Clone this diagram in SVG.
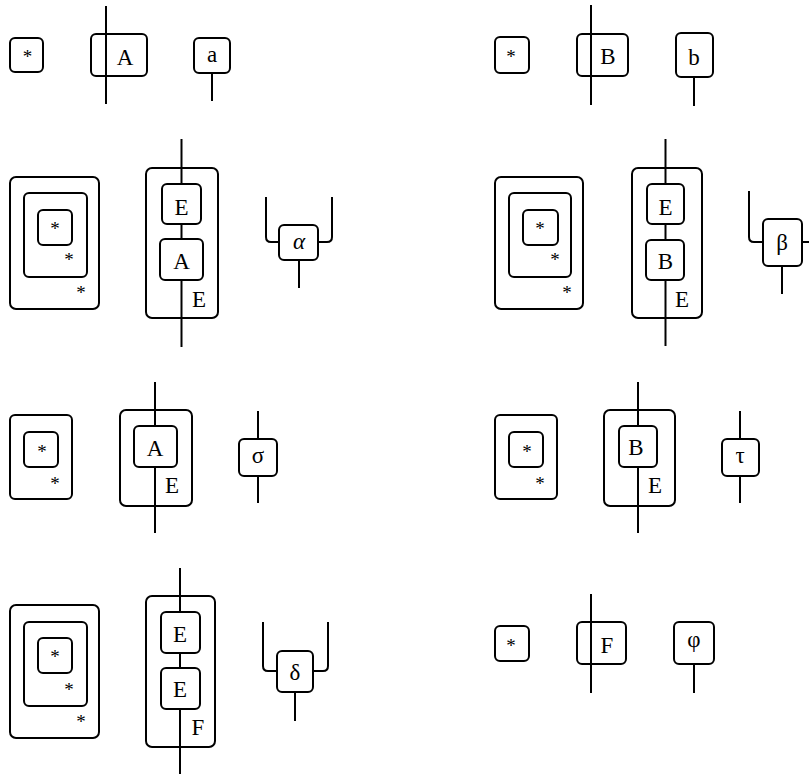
<svg xmlns="http://www.w3.org/2000/svg" width="809" height="774" viewBox="0 0 809 774">
<style>
.box{fill:#fff;stroke:#000;stroke-width:2}
.frame{fill:none;stroke:#000;stroke-width:2}
.wire{fill:none;stroke:#000;stroke-width:2}
.lbl{font-family:"Liberation Serif",serif;font-size:23px;text-anchor:middle;fill:#000}
.star{font-family:"Liberation Serif",serif;font-size:19px;text-anchor:middle;fill:#000}
.it{font-style:italic}
</style>
<rect width="809" height="774" fill="#fff"/>
<g id="connectors">
<line class="wire" x1="106" y1="6" x2="106" y2="104"/>
<line class="wire" x1="212" y1="73" x2="212" y2="101"/>
<line class="wire" x1="591" y1="5" x2="591" y2="105"/>
<line class="wire" x1="694" y1="77" x2="694" y2="106"/>
<line class="wire" x1="181.5" y1="139" x2="181.5" y2="347"/>
<path class="wire" d="M279,242 H271 Q266,242 266,237 V197"/>
<path class="wire" d="M318,242 H327 Q332,242 332,237 V197"/>
<line class="wire" x1="299" y1="260" x2="299" y2="288"/>
<line class="wire" x1="665.5" y1="139" x2="665.5" y2="346"/>
<path class="wire" d="M763,242 H754 Q749,242 749,237 V191"/>
<path class="wire" d="M802,242 H815"/>
<line class="wire" x1="782" y1="266" x2="782" y2="294"/>
<line class="wire" x1="155" y1="382" x2="155" y2="533"/>
<line class="wire" x1="258" y1="411" x2="258" y2="503"/>
<line class="wire" x1="638" y1="382" x2="638" y2="533"/>
<line class="wire" x1="740" y1="411" x2="740" y2="503"/>
<line class="wire" x1="180" y1="568" x2="180" y2="774"/>
<path class="wire" d="M277,671 H268 Q263,671 263,666 V622"/>
<path class="wire" d="M313,671 H323 Q328,671 328,666 V622"/>
<line class="wire" x1="295" y1="692" x2="295" y2="721"/>
<line class="wire" x1="591" y1="594" x2="591" y2="693"/>
<line class="wire" x1="694" y1="664" x2="694" y2="693"/>
</g>

<g id="star1"><rect class="box" x="10" y="38" width="33" height="34" rx="5"/><text class="star" x="27.5" y="63">*</text></g>
<g id="A1"><rect class="frame" x="91" y="34" width="56" height="42" rx="5"/><text class="lbl" x="125" y="65">A</text></g>
<g id="a1"><rect class="box" x="194" y="38" width="36" height="35" rx="5"/><text class="lbl" x="212" y="62">a</text></g>

<g id="star2"><rect class="box" x="495" y="37" width="34" height="36" rx="5"/><text class="star" x="511" y="63">*</text></g>
<g id="B1"><rect class="frame" x="577" y="34" width="51" height="42" rx="5"/><text class="lbl" x="608" y="64">B</text></g>
<g id="b1"><rect class="box" x="676" y="33" width="37" height="44" rx="5"/><text class="lbl" x="694" y="65">b</text></g>

<g id="nest1">
<rect class="frame" x="10" y="177" width="89" height="132" rx="6"/>
<rect class="frame" x="24" y="193" width="63" height="84" rx="5"/>
<rect class="frame" x="38" y="210" width="34" height="35" rx="5"/>
<text class="star" x="55" y="235">*</text>
<text class="star" x="69" y="266">*</text>
<text class="star" x="81" y="299">*</text>
</g>
<g id="EA-frame"><rect class="frame" x="146" y="168" width="72" height="150" rx="6"/><text class="lbl" x="199" y="307">E</text></g>
<g id="E2a"><rect class="box" x="162" y="184" width="39" height="40" rx="5"/><text class="lbl" x="181.5" y="215">E</text></g>
<g id="A2"><rect class="box" x="160" y="239" width="43" height="41" rx="5"/><text class="lbl" x="181.5" y="269">A</text></g>
<g id="alpha"><rect class="box" x="279" y="225" width="39" height="35" rx="5"/><text class="lbl it" x="299" y="249">α</text></g>

<g id="nest2">
<rect class="frame" x="495" y="177" width="88" height="132" rx="6"/>
<rect class="frame" x="509" y="193" width="62" height="84" rx="5"/>
<rect class="frame" x="523" y="210" width="35" height="35" rx="5"/>
<text class="star" x="540" y="235">*</text>
<text class="star" x="555" y="266">*</text>
<text class="star" x="567" y="299">*</text>
</g>
<g id="EB-frame"><rect class="frame" x="632" y="168" width="70" height="150" rx="6"/><text class="lbl" x="682" y="307">E</text></g>
<g id="E2b"><rect class="box" x="647" y="184" width="37" height="40" rx="5"/><text class="lbl" x="665.5" y="215">E</text></g>
<g id="B2"><rect class="box" x="646" y="240" width="38" height="40" rx="5"/><text class="lbl" x="665.5" y="269">B</text></g>
<g id="beta"><rect class="box" x="763" y="219" width="39" height="47" rx="5"/><text class="lbl" x="782" y="250">β</text></g>

<g id="nest3">
<rect class="frame" x="10" y="415" width="62" height="84" rx="5"/>
<rect class="frame" x="24" y="432" width="34" height="35" rx="5"/>
<text class="star" x="42" y="458">*</text>
<text class="star" x="55" y="490">*</text>
</g>
<g id="A3-frame"><rect class="frame" x="120" y="410" width="72" height="96" rx="6"/><text class="lbl" x="172" y="493">E</text></g>
<g id="A3"><rect class="box" x="134" y="426" width="43" height="41" rx="5"/><text class="lbl" x="155" y="456">A</text></g>
<g id="sigma"><rect class="box" x="239" y="439" width="38" height="37" rx="5"/><text class="lbl" x="258" y="463">σ</text></g>

<g id="nest4">
<rect class="frame" x="495" y="415" width="62" height="84" rx="5"/>
<rect class="frame" x="509" y="432" width="34" height="35" rx="5"/>
<text class="star" x="527" y="458">*</text>
<text class="star" x="540" y="490">*</text>
</g>
<g id="B3-frame"><rect class="frame" x="604" y="410" width="71" height="96" rx="6"/><text class="lbl" x="655" y="493">E</text></g>
<g id="B3"><rect class="box" x="619" y="426" width="38" height="41" rx="5"/><text class="lbl" x="636" y="455">B</text></g>
<g id="tau"><rect class="box" x="722" y="439" width="37" height="37" rx="5"/><text class="lbl" x="740" y="463">τ</text></g>

<g id="nest5">
<rect class="frame" x="10" y="605" width="89" height="133" rx="6"/>
<rect class="frame" x="24" y="622" width="63" height="84" rx="5"/>
<rect class="frame" x="38" y="638" width="34" height="35" rx="5"/>
<text class="star" x="55" y="663">*</text>
<text class="star" x="69" y="696">*</text>
<text class="star" x="81" y="728">*</text>
</g>
<g id="EE-frame"><rect class="frame" x="146" y="596" width="69" height="151" rx="6"/><text class="lbl" x="198" y="735">F</text></g>
<g id="E4a"><rect class="box" x="161" y="612" width="39" height="41" rx="5"/><text class="lbl" x="180" y="642">E</text></g>
<g id="E4b"><rect class="box" x="161" y="668" width="39" height="41" rx="5"/><text class="lbl" x="180" y="697">E</text></g>
<g id="delta"><rect class="box" x="277" y="651" width="36" height="41" rx="5"/><text class="lbl" x="295" y="680">δ</text></g>

<g id="star6"><rect class="box" x="495" y="626" width="34" height="35" rx="5"/><text class="star" x="511" y="652">*</text></g>
<g id="F4"><rect class="frame" x="577" y="622" width="49" height="42" rx="5"/><text class="lbl" x="607" y="653">F</text></g>
<g id="phi"><rect class="box" x="674" y="622" width="40" height="42" rx="5"/><text class="lbl" x="694" y="647">φ</text></g>
</svg>
